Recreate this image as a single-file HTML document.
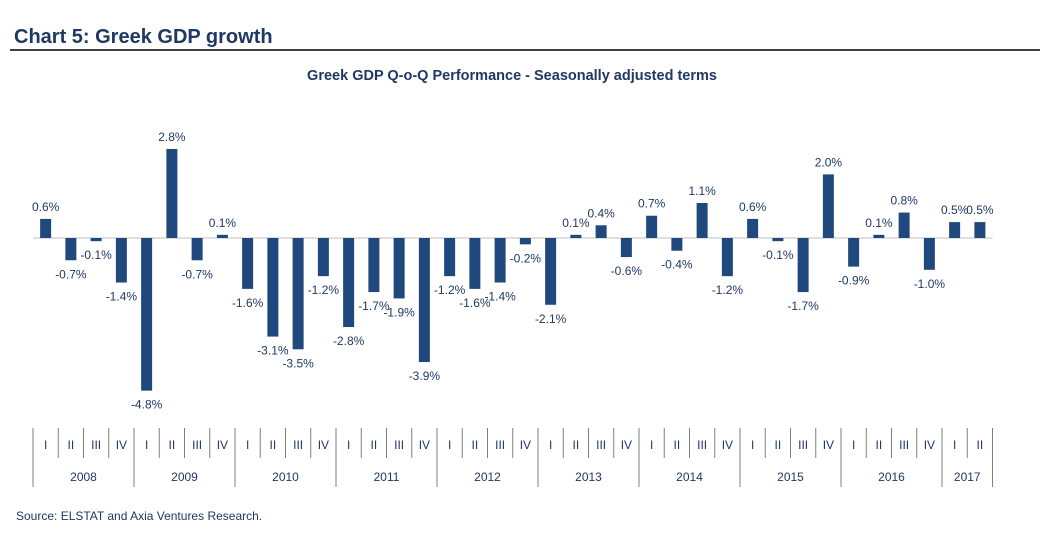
<!DOCTYPE html>
<html><head><meta charset="utf-8"><style>
body{margin:0;background:#fff;width:1054px;height:540px;overflow:hidden;font-family:"Liberation Sans",sans-serif}
</style></head><body>
<svg width="1054" height="540" xmlns="http://www.w3.org/2000/svg">
<text x="14" y="43" font-size="20" font-weight="bold" fill="#1f3864">Chart 5: Greek GDP growth</text>
<line x1="10" y1="50" x2="1040" y2="50" stroke="#000" stroke-width="1.5"/>
<text x="512" y="80" font-size="14.5" font-weight="bold" fill="#1f3864" text-anchor="middle">Greek GDP Q-o-Q Performance - Seasonally adjusted terms</text>
<g id="bars"></g>
<g id="axis"></g>
<text x="16" y="520" font-size="12" fill="#1f3864">Source: ELSTAT and Axia Ventures Research.</text>
</svg>
<script>
const years = ["2008","2009","2010","2011","2012","2013","2014","2015","2016","2017"];
const quarters = ["I","II","III","IV"];
const values = [0.6,-0.7,-0.1,-1.4,-4.8,2.8,-0.7,0.1,-1.6,-3.1,-3.5,-1.2,-2.8,-1.7,-1.9,-3.9,-1.2,-1.6,-1.4,-0.2,-2.1,0.1,0.4,-0.6,0.7,-0.4,1.1,-1.2,0.6,-0.1,-1.7,2.0,-0.9,0.1,0.8,-1.0,0.5,0.5];
const NS="http://www.w3.org/2000/svg";
const x0=33, slot=25.25, zeroY=238, k=31.8, bw=11;
const xs=i=>x0+slot*i+slot/2;
const ys=v=>zeroY-v*k;
const bars=document.getElementById('bars');
function mk(tag,attrs,parent){const e=document.createElementNS(NS,tag);for(const a in attrs)e.setAttribute(a,attrs[a]);parent.appendChild(e);return e;}
mk('line',{x1:x0,x2:x0+slot*values.length,y1:zeroY,y2:zeroY,stroke:'#bfbfbf','stroke-width':1},bars);
values.forEach((v,i)=>{
  const y=Math.min(ys(v),zeroY), h=Math.abs(ys(v)-zeroY);
  const r=mk('rect',{x:xs(i)-bw/2,y:y,width:bw,height:Math.max(h,1),fill:'#1f497d'},bars);
  
  
  const t=mk('text',{x:xs(i),y:v>=0?ys(v)-8:ys(v)+18,'font-size':12,fill:'#1f3864','text-anchor':'middle'},bars);
  t.textContent=v.toFixed(1)+'%';
  
  
});
const ax=document.getElementById('axis');
values.forEach((v,i)=>{
  const xl=x0+slot*i;
  const isYear=i%4===0;
  mk('line',{x1:xl,x2:xl,y1:428,y2:isYear?487:458,stroke:'#7f7f7f','stroke-width':1},ax);
  const t=mk('text',{x:xs(i),y:449,'font-size':12,fill:'#1f3864','text-anchor':'middle'},ax);
  t.textContent=quarters[i%4];
  
  
});
const xe=x0+slot*values.length;
mk('line',{x1:xe,x2:xe,y1:428,y2:487,stroke:'#7f7f7f','stroke-width':1},ax);
years.forEach((yr,j)=>{
  const n=Math.min(4,values.length-j*4);
  const t=mk('text',{x:x0+slot*(j*4+n/2),y:481,'font-size':12,fill:'#1f3864','text-anchor':'middle'},ax);
  t.textContent=yr;
  
  
});
</script>
</body></html>
